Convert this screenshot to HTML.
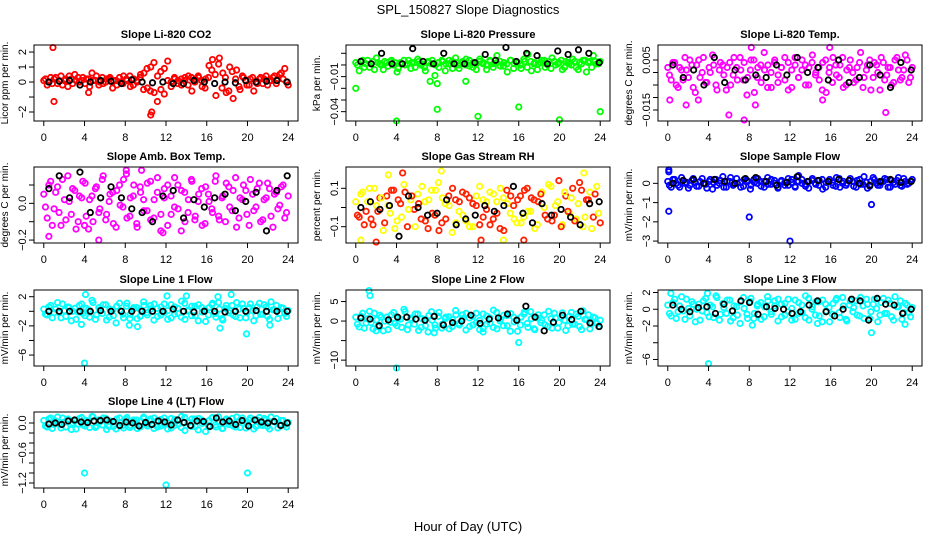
<!DOCTYPE html>
<html><head><meta charset="utf-8">
<style>
html,body{margin:0;padding:0;background:#fff;}
svg{display:block;font-family:"Liberation Sans",sans-serif;}
</style></head>
<body>
<svg id="chart" width="936" height="540" viewBox="0 0 936 540">
<text x="468" y="14" text-anchor="middle" font-size="13">SPL_150827  Slope Diagnostics</text>
<text x="468" y="531" text-anchor="middle" font-size="13">Hour of Day (UTC)</text>
</svg>
<script>
const hourTicks = [0,4,8,12,16,20,24];

const co2Cloud = [0.1,-0.2,0.3,0.2,-0.1,0.4,0.1,-0.3,0.2,0.5,0.3,0.1,-0.1,0.2,0.6,0.1,-0.2,0.3,0,0.2,-0.4,0.1,0.3,-0.1,0.2,0.4,-0.2,0.1,0.3,-0.5,0.9,-0.6,1.3,-1.3,0.7,-0.8,1.4,-0.3,0.2,0.1,-0.2,0.3,0.4,-0.6,0.2,0.3,-0.3,0.2,1.1,1.5,-0.9,1.6,0.6,-0.7,1.0,-1.1,0.8,-0.5,0.3,-0.2,0.2,-0.6,-0.1,0.3,0.2,-0.2,0.1,0.4,0.2,0.6,0.9,-0.2];
const co2Cloud2 = [0.2,0.0,-0.1,0.3,0.1,-0.2,0.2,0.4,-0.1,0.1,0.0,0.3,0.2,-0.3,0.1,0.4,0.0,-0.1,0.2,0.3,0.1,-0.2,0.0,0.4,0.1,-0.3,0.2,0.0,0.5,0.6,-0.4,1.0,-0.7,0.4,-0.5,0.9,0.1,0.0,0.3,-0.1,0.2,0.1,-0.2,0.3,0.0,0.4,0.1,-0.4,0.3,0.8,0.5,1.2,-0.4,0.3,-0.6,0.7,0.2,-0.3,0.4,0.1,-0.2,0.3,0.0,0.2,-0.1,0.4,0.1,0.3,-0.1,0.5,0.2,0.0];
const co2Out = [[0.9,2.3],[1,-1.3],[10.5,-2.2],[10.6,-2.0],[4.4,-0.7]];
const co2Black = [0,0.05,0.1,-0.2,0,0.1,0.05,-0.1,0.15,0,-0.05,0,-0.1,-0.1,0.1,0,-0.1,0,-0.05,0.1,0,0.05,0.1,0];

const pressCloud = [0.002,-0.005,0.004,0.001,-0.002,0.003,0.006,0.001,-0.004,0.002,0.003,0,-0.006,0.002,0.004,0.001,-0.003,0.002,0.005,0,-0.002,0.003,0.001,-0.009,0.002,0.004,-0.005,0.001,0.003,0.006,-0.003,0.002,0,0.004,-0.002,0.001,0.005,0.002,-0.004,0.003,0.001,0.008,-0.001,0.002,-0.006,0.004,0.001,0.002,-0.003,0.003,0.009,-0.005,0.002,0.001,0.004,-0.002,0.003,0.006,0,0.002,-0.004,0.003,0.001,0.005,-0.002,0.002,0.004,-0.006,0.003,0.008,0.001,0.003];
const pressCloud2 = [0.0,0.003,-0.002,0.004,0.001,-0.004,0.002,0.0,0.003,-0.001,0.004,0.002,-0.003,0.001,0.0,0.004,0.002,-0.002,0.003,0.001,-0.005,0.002,0.004,0.0,-0.002,0.003,0.001,0.004,-0.003,0.002,0.0,0.003,0.005,-0.001,0.002,-0.004,0.003,0.001,0.0,0.004,-0.002,0.002,0.003,-0.001,0.001,0.004,-0.003,0.002,0.0,0.005,-0.002,0.003,0.001,-0.004,0.002,0.004,0.0,-0.003,0.003,0.001,0.004,-0.002,0.002,0.0,0.003,-0.004,0.001,0.004,0.002,-0.002,0.003,0.001];
const pressOut = [[0,-0.02],[4,-0.048],[8,-0.038],[12,-0.044],[16,-0.036],[20,-0.047],[24,-0.04],[7.3,-0.014],[8,-0.016],[10.8,-0.014]];
const pressBlack = [0.003,0.001,0.01,0.001,0.001,0.014,0.003,0.001,0.01,0.001,0.001,0.002,0.009,0.004,0.015,0.003,0.01,0.008,0.001,0.012,0.009,0.013,0.01,0.002];

const tempCloud = [0.002,-0.003,0.004,-0.006,0.001,0.006,-0.002,0.003,-0.008,0.005,0,-0.004,0.002,0.007,-0.005,0.001,0.003,-0.007,0.004,-0.001,0.002,0.006,-0.003,-0.009,0.001,0.005,-0.002,0.003,0.008,-0.006,0,0.004,-0.004,0.002,0.006,-0.007,0.001,0.003,-0.002,0.005,-0.005,0.002,0.007,0,-0.003,0.004,-0.008,0.002,0.006,-0.001,0.003,-0.006,0.001,0.005,-0.004,0.002,0.008,-0.002,0.003,-0.007,0.004,0,0.006,-0.003,0.002,-0.005,0.005,0.001,-0.002,0.007,-0.004,0.002];
const tempCloud2 = [-0.001,0.004,-0.005,0.002,-0.003,0.001,0.005,-0.006,0.003,-0.002,0.006,-0.004,0.0,0.003,-0.007,0.004,-0.001,0.002,-0.005,0.006,-0.003,0.001,0.004,-0.002,0.005,-0.008,0.002,-0.004,0.001,0.003,-0.006,0.005,-0.001,0.002,-0.003,0.004,-0.006,0.006,-0.002,0.001,0.003,-0.005,0.004,-0.001,0.002,-0.007,0.005,0.0,-0.004,0.003,-0.002,0.006,-0.005,0.002,0.0,-0.003,0.004,-0.006,0.001,0.005,-0.002,0.003,-0.007,0.004,-0.001,0.002,-0.004,0.006,-0.003,0.001,0.005,-0.002];
const tempOut = [[0.2,-0.011],[1.8,-0.013],[3,-0.011],[6,-0.017],[7.5,-0.019],[8.6,-0.013],[21.4,-0.016],[15.2,-0.011],[8.2,0.01],[15.9,0.01]];
const tempBlack = [0.003,-0.002,0.001,-0.005,0.006,-0.004,0.001,-0.003,-0.001,-0.002,0.003,-0.001,0.006,0,0.002,-0.003,0.005,-0.004,-0.002,0.003,-0.001,-0.006,0.004,0.001];

const ambCloud = [0.05,-0.08,0.12,-0.03,0.09,-0.12,0.02,0.15,-0.06,0.07,-0.1,0.03,0.11,-0.14,0.04,0.08,-0.05,0.13,-0.09,0.01,0.06,-0.13,0.1,-0.02,0.16,-0.07,0.04,-0.11,0.09,0.02,-0.04,0.12,-0.08,0.06,-0.15,0.03,0.1,-0.06,0.14,-0.03,0.07,-0.1,0.02,0.12,-0.07,0.05,-0.12,0.09,0.01,-0.05,0.15,-0.09,0.04,0.11,-0.02,0.07,-0.13,0.03,0.1,-0.06,0.13,-0.04,0.08,-0.1,0.02,0.11,-0.07,0.05,-0.03,0.09,-0.08,0.04];
const ambCloud2 = [-0.02,0.1,-0.12,0.06,-0.05,0.13,-0.09,0.01,0.08,-0.14,0.04,0.12,-0.07,0.02,-0.1,0.09,-0.03,0.15,-0.06,0.05,-0.11,0.07,-0.01,0.13,-0.08,0.03,0.1,-0.13,0.06,-0.04,0.11,-0.09,0.02,0.14,-0.06,0.08,-0.12,0.04,-0.02,0.1,-0.15,0.06,-0.05,0.13,-0.09,0.01,0.08,-0.11,0.05,-0.03,0.12,-0.07,0.03,-0.1,0.09,-0.04,0.14,-0.08,0.02,0.07,-0.12,0.05,-0.02,0.11,-0.09,0.03,0.08,-0.13,0.06,-0.01,0.1,-0.05];
const ambOut = [[0.5,-0.18],[4,-0.12],[5.4,-0.2],[8.1,0.18],[9.6,0.18],[11.7,-0.16]];
const ambBlack = [0.08,0.15,0.03,0.17,-0.05,0.03,0.09,0.03,-0.03,-0.05,-0.1,0.04,0.07,-0.08,0.02,-0.02,0.03,0.05,-0.04,0.01,0.06,-0.15,0.07,0.15];

const rhCloud = [0.03,-0.05,0.08,-0.02,0.1,-0.09,0.01,0.05,-0.12,0.06,-0.03,0.09,-0.07,0.02,0.12,-0.1,0.04,-0.01,0.07,-0.06,0.03,-0.11,0.09,-0.04,0.13,-0.08,0.02,0.06,-0.13,0.04,-0.02,0.08,-0.07,0.05,-0.1,0.01,0.11,-0.05,0.03,-0.09,0.07,-0.03,0.1,-0.12,0.02,0.06,-0.06,0.04,-0.08,0.09,-0.02,0.05,-0.11,0.03,0.08,-0.04,0.12,-0.07,0.01,0.14,-0.09,0.06,-0.03,0.1,-0.06,0.13,-0.1,0.04,0.08,-0.05,0.11,-0.08];
const rhCloud2 = [-0.04,0.07,-0.09,0.03,-0.06,0.1,-0.02,0.05,-0.08,0.01,0.09,-0.11,0.04,-0.05,0.08,-0.01,0.06,-0.1,0.02,0.11,-0.07,0.04,-0.03,0.09,-0.12,0.05,-0.06,0.01,0.1,-0.08,0.03,-0.04,0.07,-0.1,0.02,0.06,-0.09,0.04,-0.01,0.08,-0.06,0.03,-0.11,0.05,0.09,-0.03,0.01,-0.08,0.06,-0.05,0.1,-0.02,0.04,-0.09,0.07,0.0,-0.06,0.11,-0.04,0.03,-0.1,0.08,-0.02,0.05,-0.07,0.02,0.09,-0.05,0.04,-0.11,0.07,-0.03];
const rhOut = [[0.5,-0.17],[2,-0.18],[3.2,0.17],[4.6,0.18],[8.4,0.19],[12.3,-0.17],[14.5,-0.17],[16.5,-0.17],[22.4,0.18]];
const rhBlack = [0,0.03,-0.01,0.01,-0.15,0.06,0,-0.04,-0.03,0.04,-0.09,-0.06,-0.04,0.01,-0.02,0.01,0.11,-0.03,-0.08,0.02,-0.04,-0.01,-0.05,-0.09,0.02,0.03];

const sampleCloud = [0.1,-0.2,0.2,-0.1,0.3,0,-0.25,0.15,0.05,-0.15,0.25,-0.05,0.1,-0.3,0.2,0,0.35,-0.2,0.1,-0.1,0.25,0.05,-0.15,0.15,-0.3,0.2,0,0.1,-0.2,0.3,-0.05,0.15,-0.25,0.1,0.05,-0.1,0.2,-0.2,0.4,0,-0.15,0.1,0.25,-0.05,0.15,-0.3,0.05,0.2,-0.1,0.3,-0.2,0.1,0,0.25,-0.15,0.15,-0.05,0.35,-0.25,0.1,0.2,-0.1,0.05,0.25,-0.2,0.15,-0.05,0.3,-0.15,0.1,0,0.2];
const sampleCloud2 = [-0.1,0.2,0.0,-0.2,0.15,0.05,-0.1,0.25,-0.15,0.1,0.0,-0.25,0.2,0.05,-0.1,0.15,-0.2,0.1,0.3,-0.05,0.0,-0.2,0.2,0.1,-0.1,0.05,0.25,-0.15,0.1,-0.05,0.2,0.0,-0.2,0.15,-0.1,0.25,0.05,-0.15,0.1,0.2,-0.05,-0.25,0.15,0.0,-0.1,0.2,-0.2,0.1,0.05,-0.15,0.25,0.0,-0.1,0.15,0.1,-0.2,0.2,-0.05,0.05,-0.15,0.3,0.0,-0.1,0.1,0.2,-0.2,0.05,0.15,-0.1,0.25,-0.05,0.1];
const sampleOut = [[0.1,0.6],[0.1,0.7],[0.1,-1.45],[8,-1.75],[12,-3.0],[20,-1.1]];
const sampleBlack = [0,0.15,0.2,0,0.2,0.1,0,0.25,0.3,0.1,-0.1,0.05,0.35,0.1,0.15,0.1,0.2,0.15,0,-0.1,0.1,0.2,0.05,0.1];

const line1Cloud = [0.3,-0.5,0.8,-0.2,1.2,-0.9,0.1,0.6,-1.3,0.4,-0.1,1.0,-0.6,0.2,1.5,-1.1,0.5,-0.3,0.9,-0.8,0.2,-1.6,1.1,-0.4,0.7,-1.0,0.3,0.5,-0.7,1.3,-0.2,0.8,-1.2,0.4,-0.5,1.0,0.1,-0.9,0.6,-0.3,1.4,-1.1,0.2,0.7,-0.6,0.9,-0.1,-1.4,0.5,1.1,-0.8,0.3,-1.2,0.8,0.1,-0.5,1.2,-0.9,0.4,-0.2,1.0,-1.3,0.6,-0.4,0.9,-0.7,1.3,0.2,-1.0,0.5,-0.3,0.1];
const line1Cloud2 = [-0.4,0.6,-0.9,0.3,-0.2,1.0,-0.7,0.5,0.0,-1.1,0.8,-0.3,0.4,-0.8,1.2,-0.5,0.2,0.9,-1.2,0.3,-0.6,0.7,0.1,-0.9,1.1,-0.4,0.5,-1.0,0.2,0.8,-0.5,0.3,1.0,-0.7,0.6,-0.2,-1.1,0.9,-0.4,0.4,-0.8,1.1,0.0,-0.6,0.7,-1.3,0.5,0.2,-0.5,0.9,-0.3,1.2,-1.0,0.4,-0.2,0.8,-0.7,0.3,1.0,-0.9,0.5,0.1,-0.6,1.1,-0.4,0.6,-1.1,0.2,0.8,-0.3,0.4,-0.7];
const line1Out = [[4,-7.1],[3.7,-1.8],[8.4,-1.9],[9.2,-2.1],[17.3,-2.3],[19.9,-3.1],[22.2,-1.9],[4.1,2.3],[12.1,2.1],[14,2.1],[17.1,2],[18.4,2.3]];
const line1Black = [0,0,0,0,0,0.1,0,0,0,0,0,0,0.3,0,-0.1,0,0,-0.1,0,0,0.1,0,0,0];

const line2Cloud = [1,-1.5,2,-0.5,2.5,-2,0.3,1.5,-2.5,1,-0.3,2.2,-1.2,0.5,3,-2.2,0.8,-0.8,1.8,-1.6,0.4,-2.8,2.4,-1,1.2,-1.8,0.6,1.1,-1.4,2.7,-0.6,1.6,-2.3,0.8,-1,2,0.2,-1.9,1.3,-0.6,2.8,-2,0.5,1.5,-1.2,1.9,-0.2,-2.6,1,2.3,-1.6,0.6,-2.2,1.6,0.2,-1,2.5,-1.8,0.8,-0.4,2.1,-2.4,1.2,-0.8,1.8,-1.4,2.6,0.4,-2,1,-0.6,0.2];
const line2Cloud2 = [-0.8,1.2,-1.8,0.6,-0.4,2.0,-1.4,1.0,0.0,-2.2,1.6,-0.6,0.8,-1.6,2.4,-1.0,0.4,1.8,-2.4,0.6,-1.2,1.4,0.2,-1.8,2.2,-0.8,1.0,-2.0,0.4,1.6,-1.0,0.6,2.0,-1.4,1.2,-0.4,-2.2,1.8,-0.8,0.8,-1.6,2.2,0.0,-1.2,1.4,-2.6,1.0,0.4,-1.0,1.8,-0.6,2.4,-2.0,0.8,-0.4,1.6,-1.4,0.6,2.0,-1.8,1.0,0.2,-1.2,2.2,-0.8,1.2,-2.2,0.4,1.6,-0.6,0.8,-1.4];
const line2Out = [[1.3,7.8],[1.4,6.5],[4,-12],[16,-5.5],[2,-2.5],[7.7,-3],[12.5,-2.8]];
const line2Black = [0.8,0.5,-1.2,0.3,1,1,0.5,0.2,1.2,-1,-0.4,0,1.5,-0.6,0.5,0.8,1.8,0.2,3.8,1,-2.5,-0.3,1.5,0.4,2.5,-0.5,-1.4];

const line3Cloud = [0.5,-0.8,1.2,-0.3,1.5,-1.2,0.1,0.9,-1.5,0.6,-0.2,1.3,-0.9,0.3,1.6,-1.3,0.7,-0.5,1.1,-1,0.3,-1.7,1.4,-0.6,0.9,-1.1,0.4,0.8,-0.9,1.5,-0.3,1,-1.4,0.6,-0.7,1.2,0.1,-1.2,0.8,-0.4,1.6,-1.3,0.3,0.9,-0.8,1.1,-0.2,-1.5,0.7,1.3,-1,0.4,-1.4,1,0.2,-0.7,1.4,-1.1,0.6,-0.3,1.2,-1.5,0.8,-0.5,1.1,-0.9,1.5,0.3,-1.2,0.7,-0.4,0.2];
const line3Cloud2 = [-0.5,0.8,-1.1,0.4,-0.2,1.2,-0.8,0.6,0.0,-1.3,1.0,-0.4,0.5,-1.0,1.4,-0.6,0.2,1.1,-1.4,0.4,-0.7,0.9,0.1,-1.1,1.3,-0.5,0.6,-1.2,0.3,1.0,-0.6,0.4,1.2,-0.9,0.7,-0.3,-1.3,1.1,-0.5,0.5,-1.0,1.3,0.0,-0.7,0.9,-1.5,0.6,0.2,-0.6,1.1,-0.4,1.4,-1.2,0.5,-0.3,1.0,-0.8,0.4,1.2,-1.1,0.6,0.1,-0.7,1.3,-0.5,0.7,-1.3,0.3,1.0,-0.4,0.5,-0.9];
const line3Out = [[0.3,1.9],[3.9,1.9],[4,-6.5],[20,-2.8],[8.3,-1.9],[14.7,-1.7],[23.3,-1.8]];
const line3Black = [0.5,0,-0.3,0.2,0.3,-0.5,0.6,-0.2,1,0.8,-0.6,0.3,0.1,0,-0.5,-0.3,0.5,1,-0.3,-0.8,0,1.2,1,-1.3,1.3,0.6,0.5,-0.5,0];

const line4Cloud = [0.05,-0.08,0.1,-0.03,0.12,-0.1,0.02,0.08,-0.13,0.04,-0.02,0.11,-0.06,0.03,0.13,-0.09,0.06,-0.04,0.09,-0.07,0.02,-0.12,0.1,-0.05,0.07,-0.09,0.03,0.06,-0.08,0.12,-0.02,0.08,-0.11,0.05,-0.06,0.1,0.01,-0.1,0.07,-0.03,0.13,-0.15,0.02,0.08,-0.07,0.09,-0.01,-0.17,0.05,0.11,-0.08,0.03,-0.11,0.08,0.01,-0.06,0.12,-0.09,0.04,-0.02,0.1,-0.12,0.06,-0.04,0.09,-0.07,0.12,0.02,-0.1,0.05,-0.03,0.01];
const line4Cloud2 = [-0.06,0.08,-0.11,0.04,-0.02,0.1,-0.08,0.06,0.0,-0.12,0.09,-0.04,0.05,-0.09,0.12,-0.06,0.02,0.1,-0.13,0.04,-0.07,0.08,0.01,-0.1,0.11,-0.05,0.06,-0.11,0.03,0.09,-0.06,0.04,0.1,-0.08,0.07,-0.03,-0.12,0.09,-0.05,0.05,-0.09,0.11,0.0,-0.07,0.08,-0.14,0.06,0.02,-0.06,0.1,-0.04,0.12,-0.11,0.05,-0.03,0.09,-0.08,0.04,0.1,-0.1,0.06,0.01,-0.07,0.11,-0.05,0.07,-0.12,0.03,0.09,-0.04,0.05,-0.08];
const line4Out = [[4,-1.0],[12,-1.24],[20,-1.0]];
const line4Black = [-0.02,0,-0.03,0.04,0.06,0.02,0.01,0.04,0.05,0.06,0.03,-0.05,0.02,0,-0.06,0.01,-0.03,0.04,0.02,-0.04,0.06,0.01,-0.05,0.04,0.03,-0.07,0.1,0.02,0.04,-0.03,0.05,-0.06,0.06,0.02,0,0.03,-0.05,0];

const panelTitles = ["Slope Li-820 CO2","Slope Li-820 Pressure","Slope Li-820 Temp.","Slope Amb. Box Temp.","Slope Gas Stream RH","Slope Sample Flow","Slope Line 1 Flow","Slope Line 2 Flow","Slope Line 3 Flow","Slope Line 4 (LT) Flow"];
const panelYLabels = ["Licor ppm per min.","kPa per min.","degrees C per min.","degrees C per min.","percent per min.","mV/min per min.","mV/min per min.","mV/min per min.","mV/min per min.","mV/min per min."];
const panelYTicks = [[-2,-1,0,1,2],[-0.04,-0.03,-0.02,-0.01,0,0.01],[-0.015,-0.01,-0.005,0,0.005],[-0.2,-0.1,0,0.1],[-0.1,0,0.1],[-3,-2,-1,0],[-6,-4,-2,0,2],[-10,-5,0,5],[-6,-4,-2,0,2],[-1.2,-1.0,-0.8,-0.6,-0.4,-0.2,0]];
const panelYTickLabels = [["-2","","0","1","2"],["-0.04","","","-0.01","",""],["-0.015","","","","0.005"],["-0.2","","0.0",""],["-0.1","","0.1"],["-3","-2","-1","0"],["-6","","-2","","2"],["-10","","0","5"],["-6","","-2","0","2"],["-1.2","","","-0.6","","","0.0"]];
const panelYRanges = [[-2.6,2.47],[-0.048,0.0171],[-0.0194,0.011],[-0.216,0.198],[-0.185,0.211],[-3.1,0.85],[-7.5,2.92],[-11.5,7.95],[-6.78,2.3],[-1.3,0.22]];
const panelClouds = [co2Cloud,pressCloud,tempCloud,ambCloud,rhCloud,sampleCloud,line1Cloud,line2Cloud,line3Cloud,line4Cloud];
const panelClouds2 = [co2Cloud2,pressCloud2,tempCloud2,ambCloud2,rhCloud2,sampleCloud2,line1Cloud2,line2Cloud2,line3Cloud2,line4Cloud2];
const panelOutliers = [co2Out,pressOut,tempOut,ambOut,rhOut,sampleOut,line1Out,line2Out,line3Out,line4Out];
const panelBlacks = [co2Black,pressBlack,tempBlack,ambBlack,rhBlack,sampleBlack,line1Black,line2Black,line3Black,line4Black];
const panelColors = [["#ff0000"],["#00ff00"],["#ff00ff"],["#ff00ff"],["#ffff00","#ff2000"],["#0000ff"],["#00ffff"],["#00ffff"],["#00ffff"],["#00ffff"]];

const NS = "http://www.w3.org/2000/svg";
const svg = document.getElementById("chart");
function mk(tag, attrs, parent){
  const e = document.createElementNS(NS, tag);
  for (const k in attrs) e.setAttribute(k, attrs[k]);
  parent.appendChild(e);
  return e;
}
const colLeft = [34,346,658], rowTop = [45,167,290,412], W = 264, H = 76;
const slug = s => s.toLowerCase().replace(/[^a-z0-9]+/g,'-').replace(/^-|-$/g,'');

panelTitles.forEach((title, p) => {
  const L = colLeft[p%3], T = rowTop[Math.floor(p/3)];
  const [y0,y1] = panelYRanges[p];
  const xs = h => L + (h + 0.96) / 25.92 * W;
  const ys = v => T + (y1 - v) / (y1 - y0) * H;
  const g = mk("g", {}, svg);
  
  

  const t = mk("text", {x: L + W/2, y: T - 7, "text-anchor": "middle", "font-size": 11, "font-weight": "bold"}, g);
  t.textContent = title;
  
  

  const yl = mk("text", {transform: `translate(${L-26},${T+H/2}) rotate(-90)`, "text-anchor": "middle", "font-size": 10}, g);
  yl.textContent = panelYLabels[p];
  
  

  const pts = mk("g", {fill: "none", "stroke-width": 1.8}, g);
  
  
  const cols = panelColors[p];
  const cloud = panelClouds[p];
  cloud.forEach((v, i) => {
    const h = i * 24 / (cloud.length - 1);
    const c = mk("circle", {cx: xs(h), cy: ys(v), r: 2.7, stroke: cols[i % cols.length]}, pts);
    
    
  });
  const cloud2 = panelClouds2[p];
  cloud2.forEach((v, i) => {
    const h = (i + 0.5) * 24 / cloud2.length;
    const c = mk("circle", {cx: xs(h), cy: ys(v), r: 2.7, stroke: cols[(i + 1) % cols.length]}, pts);
    
    
  });
  panelOutliers[p].forEach((o, i) => {
    const c = mk("circle", {cx: xs(o[0]), cy: ys(o[1]), r: 2.7, stroke: cols[i % cols.length]}, pts);
    
    
  });
  const blk = panelBlacks[p];
  blk.forEach((v, i) => {
    const h = 0.5 + i * 23.4 / (blk.length - 1);
    const c = mk("circle", {cx: xs(h), cy: ys(v), r: 2.7, stroke: "#000"}, pts);
    
    
  });

  const box = mk("rect", {x: L, y: T, width: W, height: H, fill: "none", stroke: "#000", "stroke-width": 1}, g);
  
  

  const xa = mk("g", {stroke: "#000", "stroke-width": 1}, g);
  
  
  hourTicks.forEach(h => {
    mk("line", {x1: xs(h), x2: xs(h), y1: T+H, y2: T+H+5}, xa);
    const tl = mk("text", {x: xs(h), y: T+H+20, "text-anchor": "middle", "font-size": 11, stroke: "none"}, xa);
    tl.textContent = h;
    
    
  });

  const ya = mk("g", {stroke: "#000", "stroke-width": 1}, g);
  
  
  panelYTicks[p].forEach((v, i) => {
    mk("line", {x1: L-5, x2: L, y1: ys(v), y2: ys(v)}, ya);
    const lab = panelYTickLabels[p][i];
    if (lab) {
      const tl = mk("text", {transform: `translate(${L-8},${ys(v)}) rotate(-90)`, "text-anchor": "middle", "font-size": 11, stroke: "none"}, ya);
      tl.textContent = lab.replace("-", "\u2212");
      
      
    }
  });
});
</script>
</body></html>
